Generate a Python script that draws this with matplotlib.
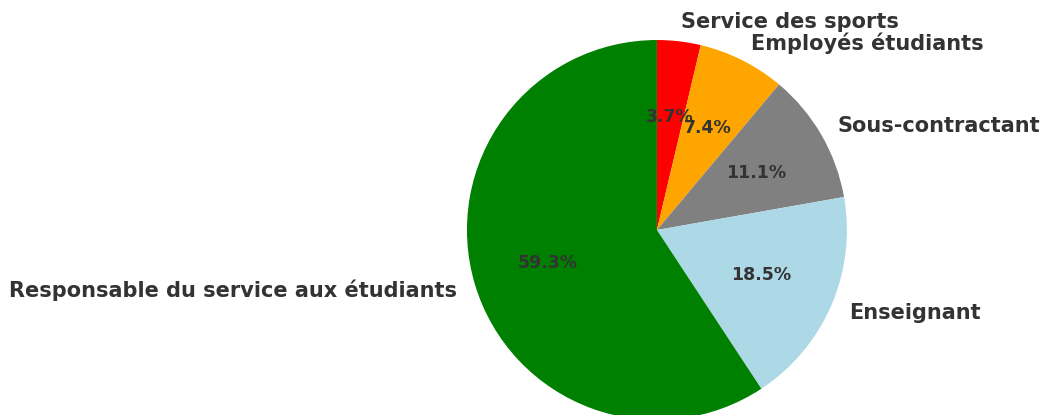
import matplotlib
matplotlib.use("Agg")
import matplotlib.pyplot as plt

labels = ["Service des sports", "Employés étudiants", "Sous-contractant",
          "Enseignant", "Responsable du service aux étudiants"]
counts = [1, 2, 3, 5, 16]
colors = ["red", "orange", "gray", "lightblue", "green"]

fig = plt.figure(figsize=(10.45, 4.15), dpi=100)
# pie centre about (657, 230) px, radius about 190 px
ax = fig.add_axes([0.4014, -0.1265, 0.4545, 1.1446])

wedges, texts, autotexts = ax.pie(counts, labels=labels, colors=colors,
                                  autopct="%1.1f%%", startangle=90,
                                  counterclock=False)
for t in texts:
    t.set_fontsize(15)
    t.set_fontweight("bold")
    t.set_color("#333333")
for t in autotexts:
    t.set_fontsize(12.5)
    t.set_fontweight("bold")
    t.set_color("#333333")

ax.set_aspect("equal")
ax.set_xlim(-1.25, 1.25)
ax.set_ylim(-1.25, 1.25)

fig.savefig("out.png", dpi=100)
